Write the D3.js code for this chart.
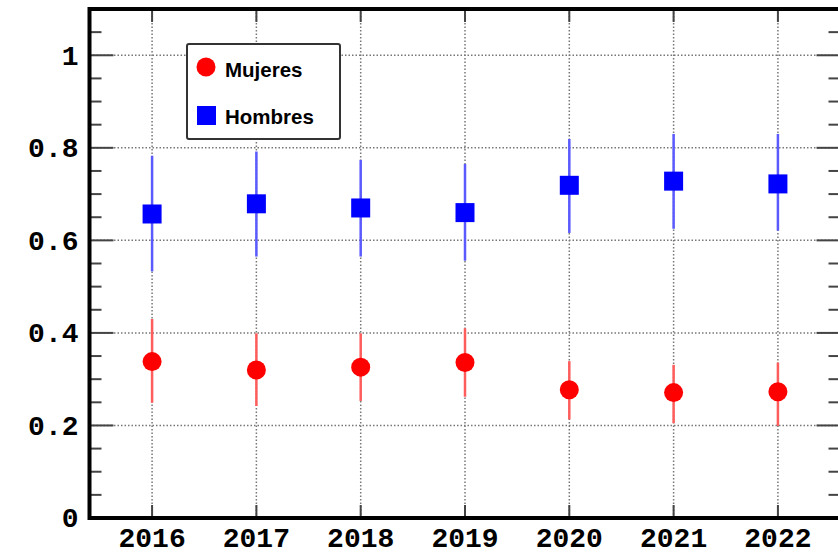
<!DOCTYPE html>
<html>
<head>
<meta charset="utf-8">
<script src="https://cdn.jsdelivr.net/npm/d3@7"></script>
<style>
  body { margin: 0; background: white; }
  svg { display: block; }
</style>
</head>
<body>
<div id="chart"></div>
<script>
// data
var years = [2016, 2017, 2018, 2019, 2020, 2021, 2022];
var mujeres   = [0.338, 0.320, 0.326, 0.336, 0.277, 0.271, 0.273];
var mujeresLo = [0.249, 0.242, 0.253, 0.262, 0.213, 0.205, 0.199];
var mujeresHi = [0.430, 0.399, 0.399, 0.410, 0.339, 0.331, 0.336];
var hombres   = [0.657, 0.679, 0.670, 0.660, 0.719, 0.728, 0.722];
var hombresLo = [0.533, 0.565, 0.565, 0.556, 0.616, 0.625, 0.621];
var hombresHi = [0.783, 0.792, 0.774, 0.765, 0.819, 0.830, 0.830];
var yTickValues = [0, 0.2, 0.4, 0.6, 0.8, 1];
var yTickLabels = ["0", "0.2", "0.4", "0.6", "0.8", "1"];
var legendLabels = ["Mujeres", "Hombres"];

var W = 838, H = 554;
var padL = 89.5, padR = 840.5, padT = 9, padB = 518;

var svg = d3.select("#chart").append("svg")
    .attr("width", W)
    .attr("height", H);

var x = d3.scaleLinear().domain([2015.4, 2022.6]).range([padL, padR]);
var y = d3.scaleLinear().domain([0, 1.1]).range([padB, padT]);

//grid
var grid = svg.append("g")
    .attr("stroke", "#777")
    .attr("stroke-width", 1.5)
    .attr("stroke-dasharray", "1.5,2");

grid.selectAll(".gx").data(years).enter().append("line")
    .attr("x1", d => x(d)).attr("x2", d => x(d))
    .attr("y1", padB).attr("y2", padT);

grid.selectAll(".gy").data(yTickValues.filter(d => d > 0)).enter().append("line")
    .attr("x1", padL).attr("x2", padR)
    .attr("y1", d => y(d)).attr("y2", d => y(d));

//error bars
function errBars(lo, hi, color) {
  svg.append("g").selectAll("line").data(years).enter().append("line")
      .attr("x1", d => x(d)).attr("x2", d => x(d))
      .attr("y1", (d, i) => y(lo[i])).attr("y2", (d, i) => y(hi[i]))
      .attr("stroke", color)
      .attr("stroke-width", 2.5);
}
errBars(hombresLo, hombresHi, "#5a5aff");
errBars(mujeresLo, mujeresHi, "#ff5c5c");

//markers
svg.append("g").selectAll("circle").data(years).enter().append("circle")
    .attr("cx", d => x(d))
    .attr("cy", (d, i) => y(mujeres[i]))
    .attr("r", 9.5)
    .attr("fill", "#ff0000");

var sq = 19;
svg.append("g").selectAll("rect").data(years).enter().append("rect")
    .attr("x", d => x(d) - sq / 2)
    .attr("y", (d, i) => y(hombres[i]) - sq / 2)
    .attr("width", sq).attr("height", sq)
    .attr("fill", "#0000ff");

//ticks (inside, both sides)
var ticks = svg.append("g").attr("stroke", "#444").attr("stroke-width", 2);
var minor = y.ticks(22);
var isMajor = d => yTickValues.some(v => Math.abs(v - d) < 1e-9);

ticks.selectAll(".ml").data(minor).enter().append("line")
    .attr("x1", padL).attr("x2", d => padL + (isMajor(d) ? 24 : 12))
    .attr("y1", d => y(d)).attr("y2", d => y(d));
ticks.selectAll(".mr").data(minor).enter().append("line")
    .attr("x1", padR).attr("x2", d => padR - (isMajor(d) ? 24 : 12))
    .attr("y1", d => y(d)).attr("y2", d => y(d));

ticks.selectAll(".tb").data(years).enter().append("line")
    .attr("x1", d => x(d)).attr("x2", d => x(d))
    .attr("y1", padB).attr("y2", padB - 13);
ticks.selectAll(".tt").data(years).enter().append("line")
    .attr("x1", d => x(d)).attr("x2", d => x(d))
    .attr("y1", padT).attr("y2", padT + 13);

//frame
svg.append("rect")
    .attr("x", padL).attr("y", padT)
    .attr("width", padR - padL).attr("height", padB - padT)
    .attr("fill", "none")
    .attr("stroke", "#000")
    .attr("stroke-width", 4);

//tick labels
svg.append("g").selectAll("text").data(yTickValues).enter().append("text")
    .attr("x", padL - 11)
    .attr("y", d => y(d))
    .attr("dy", "0.33em")
    .attr("text-anchor", "end")
    .style("font-family", "'Liberation Mono', 'DejaVu Sans Mono', monospace")
    .style("font-weight", "bold")
    .style("font-size", "28px")
    .text((d, i) => yTickLabels[i]);

svg.append("g").selectAll("text").data(years).enter().append("text")
    .attr("x", d => x(d))
    .attr("y", 547)
    .attr("text-anchor", "middle")
    .style("font-family", "'Liberation Mono', 'DejaVu Sans Mono', monospace")
    .style("font-weight", "bold")
    .style("font-size", "28px")
    .text(d => d);

//legend
var lg = svg.append("g");
lg.append("rect")
    .attr("x", 187).attr("y", 44)
    .attr("width", 153).attr("height", 95)
    .attr("rx", 2)
    .attr("fill", "white")
    .attr("stroke", "#333")
    .attr("stroke-width", 2);

lg.append("circle").attr("cx", 206).attr("cy", 67).attr("r", 9.5).attr("fill", "#ff0000");
lg.append("rect").attr("x", 197).attr("y", 106).attr("width", sq).attr("height", sq).attr("fill", "#0000ff");

lg.selectAll("text").data(legendLabels).enter().append("text")
    .attr("x", 225)
    .attr("y", (d, i) => 77 + i * 47)
    .style("font-family", "'Liberation Sans', Arial, sans-serif")
    .style("font-weight", "bold")
    .style("font-size", "20.5px")
    .text(d => d);
</script>
</body>
</html>
